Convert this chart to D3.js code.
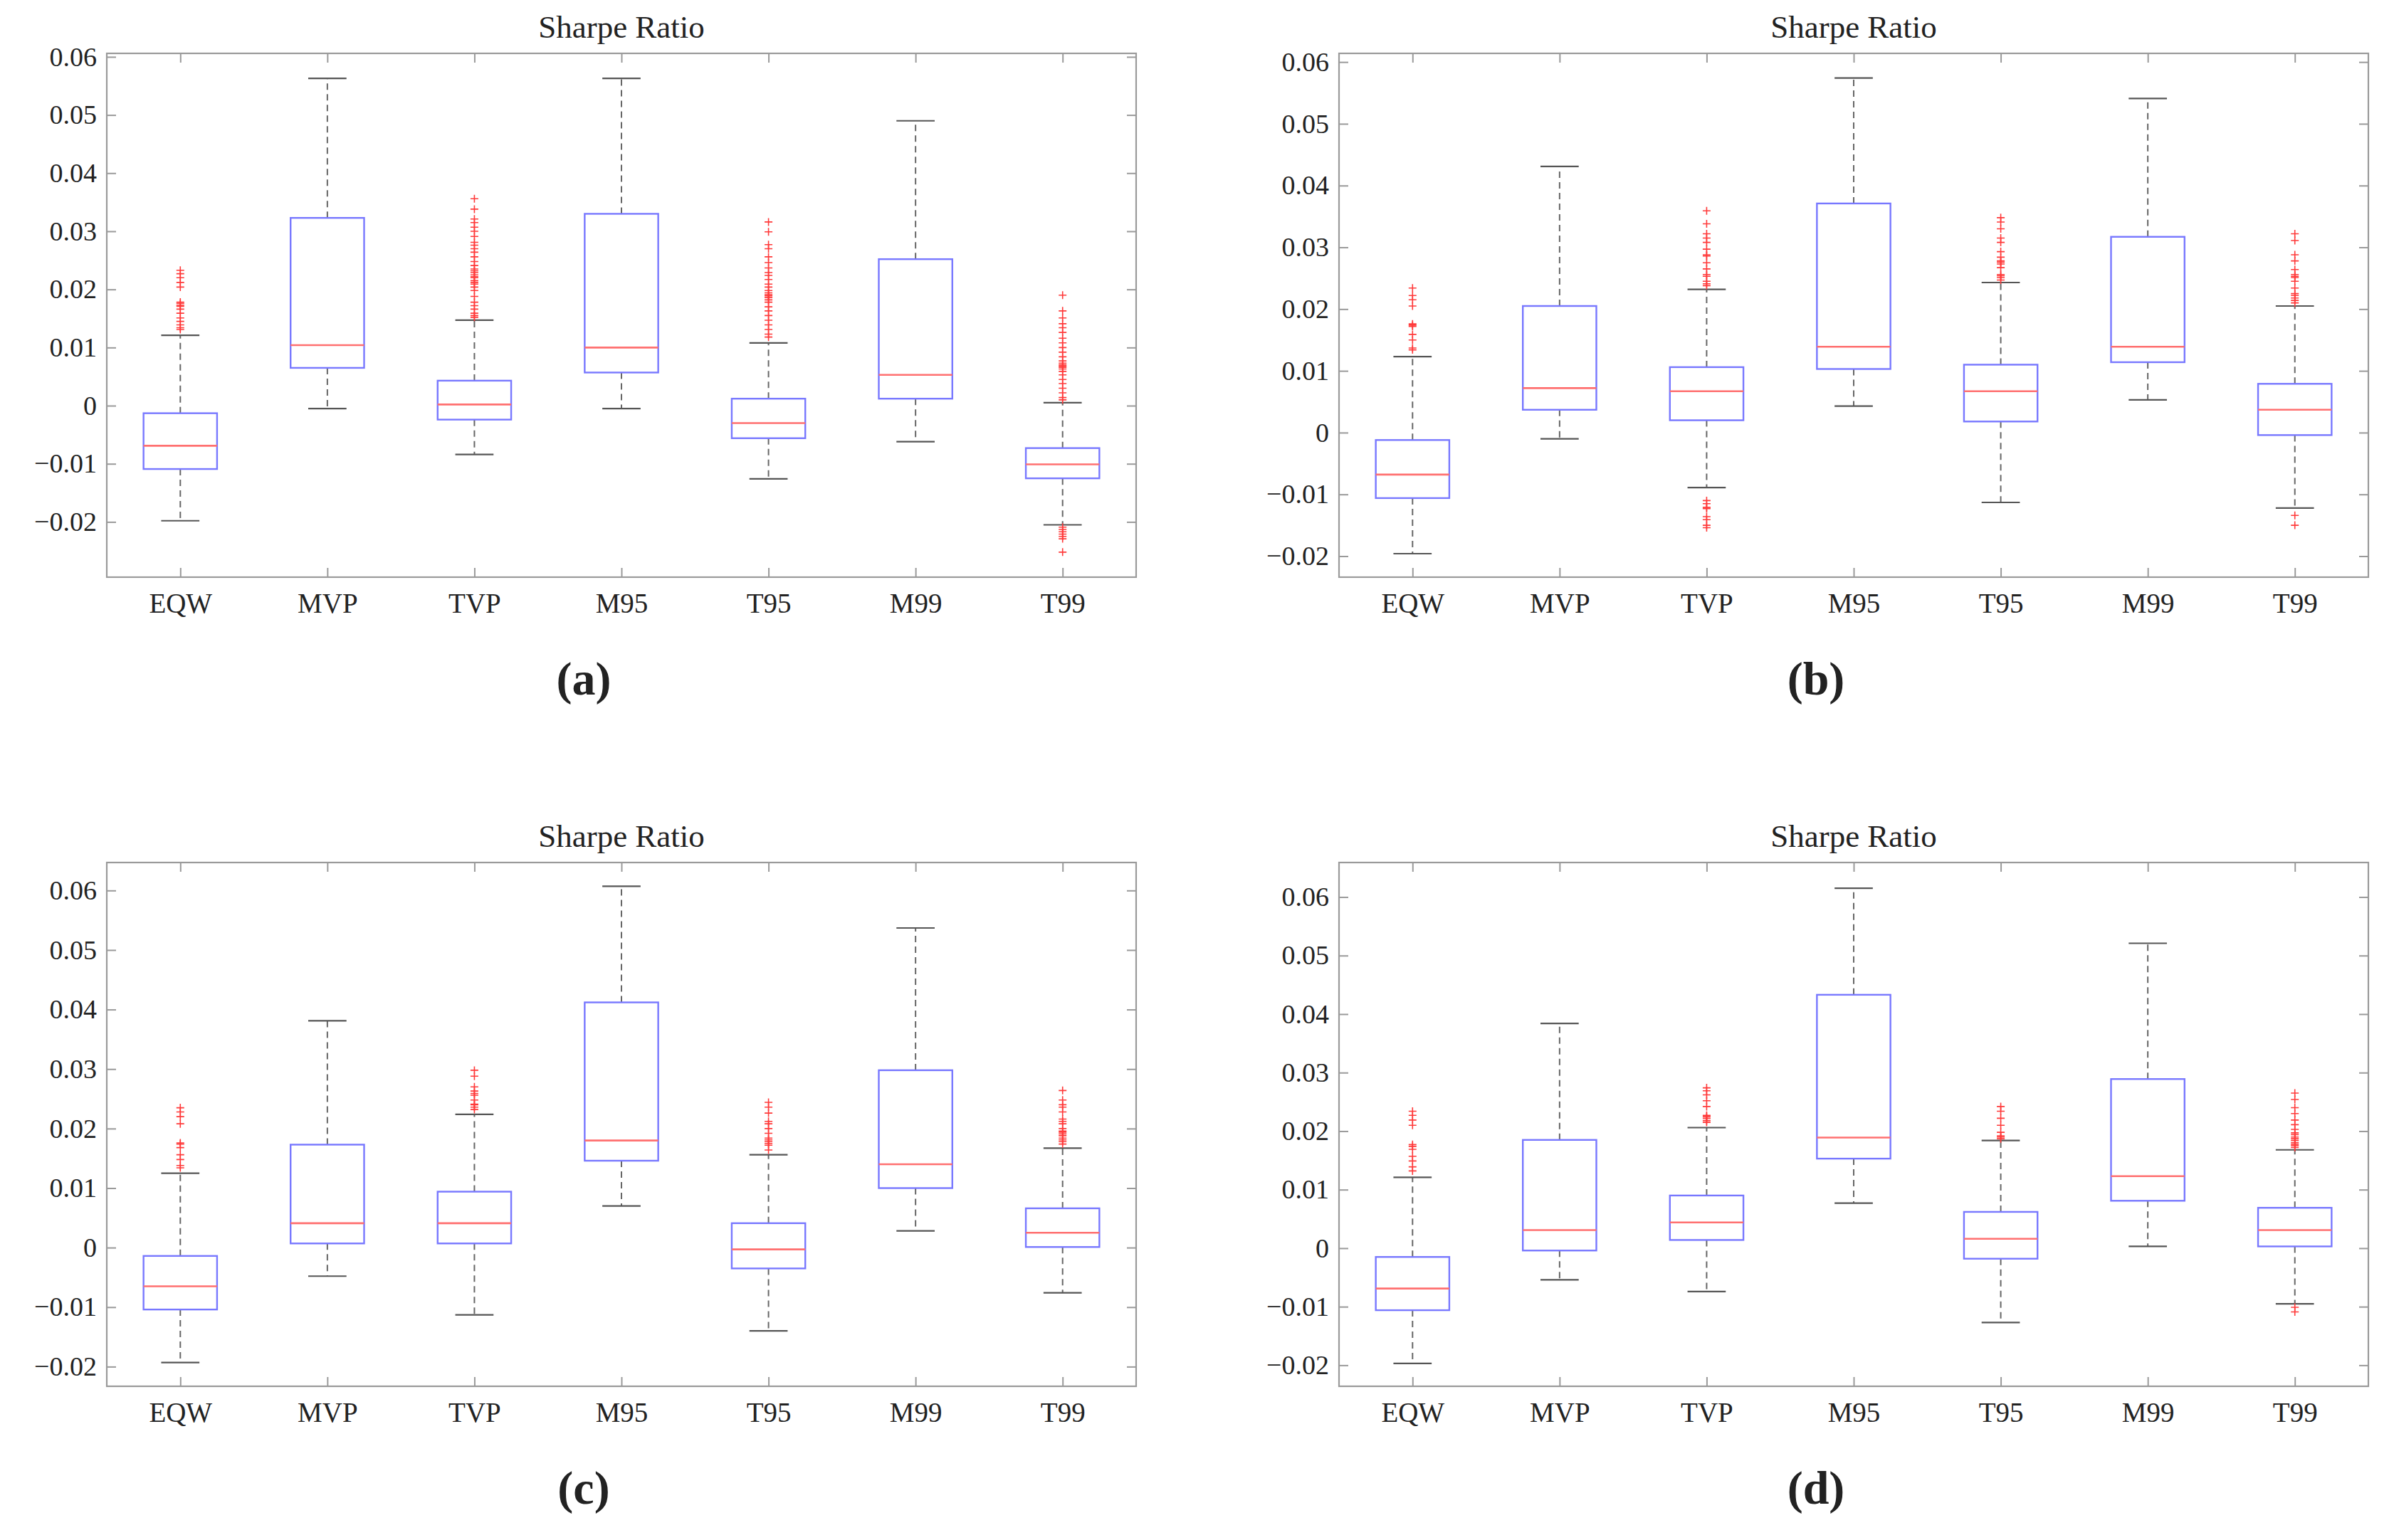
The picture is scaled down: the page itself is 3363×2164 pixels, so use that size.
<!DOCTYPE html>
<html>
<head>
<meta charset="utf-8">
<script src="https://cdn.jsdelivr.net/npm/d3@7"></script>
<style>
  body { margin: 0; background: #fff; }
  text { font-family: "Liberation Serif", "DejaVu Serif", serif; fill: #222; }
</style>
</head>
<body>
<div id="chart"></div>
<script>
// Categories and tick labels
const categories = ["EQW", "MVP", "TVP", "M95", "T95", "M99", "T99"];
const panelLabels = ["(a)", "(b)", "(c)", "(d)"];
const yTicks = [-0.02, -0.01, 0, 0.01, 0.02, 0.03, 0.04, 0.05, 0.06];
const yLimits = [[-0.0295, 0.0606], [-0.0234, 0.0614], [-0.0233, 0.0647], [-0.0236, 0.0659]];

// Panel (a)
const aLow  = [-0.0198, -0.0005, -0.0084, -0.0005, -0.0126, -0.0062, -0.0205];
const aQ1   = [-0.0109, 0.0065, -0.0024, 0.0057, -0.0056, 0.0012, -0.0125];
const aMed  = [-0.0069, 0.0104, 0.0002, 0.0100, -0.0030, 0.0053, -0.0101];
const aQ3   = [-0.0013, 0.0323, 0.0043, 0.0330, 0.0012, 0.0252, -0.0073];
const aHigh = [0.0121, 0.0563, 0.0147, 0.0563, 0.0108, 0.0490, 0.0005];
const aOut = [
    [0.0131, 0.0134, 0.0139, 0.0145, 0.0151, 0.0159, 0.0166, 0.0171, 0.0173, 0.0176, 0.0178, 0.0204, 0.0212, 0.022, 0.0227, 0.0233],
    [],
    [0.0152, 0.0155, 0.0159, 0.0166, 0.0172, 0.0178, 0.0188, 0.0198, 0.0204, 0.0209, 0.0212, 0.0215, 0.022, 0.0222, 0.0225, 0.0229,
     0.0232, 0.0235, 0.0241, 0.0248, 0.0256, 0.0264, 0.027, 0.0276, 0.0281, 0.0291, 0.03, 0.0307, 0.0315, 0.0321, 0.0338, 0.0356],
    [],
    [0.0118, 0.0123, 0.0131, 0.0139, 0.0147, 0.0155, 0.0163, 0.017, 0.0178, 0.0182, 0.0186, 0.0189, 0.0191, 0.0194, 0.0198, 0.0204,
     0.0209, 0.0217, 0.0224, 0.0229, 0.0237, 0.0246, 0.0256, 0.027, 0.0277, 0.0299, 0.0316],
    [],
    [0.001, 0.0014, 0.0022, 0.003, 0.0038, 0.0045, 0.0053, 0.0059, 0.0063, 0.0066, 0.0068, 0.007, 0.0073, 0.0077, 0.0084, 0.0092,
     0.01, 0.0108, 0.0116, 0.0126, 0.0134, 0.0141, 0.0151, 0.0163, 0.019,
     -0.0209, -0.0213, -0.0217, -0.0221, -0.0225, -0.0229, -0.0252]
];

// Panel (b)
const bLow  = [-0.0196, -0.0010, -0.0089, 0.0043, -0.0113, 0.0053, -0.0122];
const bQ1   = [-0.0106, 0.0037, 0.0020, 0.0103, 0.0018, 0.0114, -0.0004];
const bMed  = [-0.0068, 0.0072, 0.0067, 0.0139, 0.0067, 0.0139, 0.0037];
const bQ3   = [-0.0012, 0.0205, 0.0106, 0.0371, 0.0110, 0.0317, 0.0079];
const bHigh = [0.0123, 0.0431, 0.0232, 0.0574, 0.0243, 0.0541, 0.0205];
const bOut = [
    [0.0134, 0.0137, 0.015, 0.0159, 0.0172, 0.0174, 0.0176, 0.0205, 0.0215, 0.0222, 0.0234],
    [],
    [0.0238, 0.0241, 0.0245, 0.0253, 0.0256, 0.0265, 0.0275, 0.0286, 0.0288, 0.0297, 0.0308, 0.0315, 0.0322, 0.0338, 0.0359,
     -0.011, -0.0115, -0.0121, -0.0123, -0.0136, -0.0141, -0.015, -0.0154],
    [],
    [0.0247, 0.0251, 0.0254, 0.0256, 0.0267, 0.0273, 0.0276, 0.0278, 0.0284, 0.0293, 0.0308, 0.0315, 0.033, 0.0341, 0.0348],
    [],
    [0.021, 0.0214, 0.0218, 0.0222, 0.0225, 0.0234, 0.0245, 0.0251, 0.0253, 0.0256, 0.0264, 0.0278, 0.0288, 0.0311, 0.0322,
     -0.0134, -0.015]
];

// Panel (c)
const cLow  = [-0.0193, -0.0048, -0.0113, 0.0070, -0.0140, 0.0028, -0.0076];
const cQ1   = [-0.0104, 0.0007, 0.0007, 0.0146, -0.0035, 0.0100, 0.0001];
const cMed  = [-0.0065, 0.0041, 0.0041, 0.0180, -0.0003, 0.0140, 0.0025];
const cQ3   = [-0.0014, 0.0173, 0.0094, 0.0412, 0.0041, 0.0298, 0.0066];
const cHigh = [0.0125, 0.0381, 0.0224, 0.0607, 0.0156, 0.0537, 0.0167];
const cOut = [
    [0.0134, 0.0138, 0.0148, 0.0156, 0.0168, 0.0174, 0.0176, 0.0208, 0.022, 0.0228, 0.0235],
    [],
    [0.0232, 0.0236, 0.024, 0.0241, 0.0248, 0.0256, 0.0259, 0.0263, 0.027, 0.0288, 0.0298],
    [],
    [0.0164, 0.0172, 0.0175, 0.0178, 0.0181, 0.0184, 0.0192, 0.02, 0.0208, 0.0212, 0.0226, 0.0236, 0.0244],
    [],
    [0.0174, 0.0178, 0.0181, 0.0184, 0.0188, 0.0191, 0.0194, 0.0196, 0.02, 0.0208, 0.0212, 0.0216, 0.0228, 0.0236, 0.024, 0.0248, 0.0264]
];

// Panel (d)
const dLow  = [-0.0197, -0.0054, -0.0074, 0.0077, -0.0127, 0.0003, -0.0095];
const dQ1   = [-0.0106, -0.0004, 0.0014, 0.0153, -0.0018, 0.0081, 0.0003];
const dMed  = [-0.0069, 0.0031, 0.0044, 0.0189, 0.0016, 0.0123, 0.0031];
const dQ3   = [-0.0015, 0.0185, 0.0090, 0.0433, 0.0062, 0.0289, 0.0069];
const dHigh = [0.0121, 0.0384, 0.0206, 0.0615, 0.0184, 0.0521, 0.0168];
const dOut = [
    [0.0132, 0.0139, 0.0149, 0.0157, 0.0169, 0.0174, 0.0177, 0.021, 0.0219, 0.0227, 0.0234],
    [],
    [0.0215, 0.0218, 0.0222, 0.0225, 0.0227, 0.0242, 0.0252, 0.0262, 0.0269, 0.0274],
    [],
    [0.0187, 0.019, 0.0192, 0.0198, 0.021, 0.0222, 0.0234, 0.0242],
    [],
    [0.0172, 0.0175, 0.0177, 0.018, 0.0184, 0.0187, 0.019, 0.0194, 0.0197, 0.0203, 0.0211, 0.0219, 0.023, 0.024, 0.0254, 0.0265,
     -0.0101, -0.0109]
];

// Build rows for each panel from the arrays
function rows(low, q1, med, q3, high, out) {
    return categories.map((c, i) => ({ cat: c, lo: low[i], q1: q1[i], med: med[i], q3: q3[i], hi: high[i], out: out[i] }));
}
const panelData = [
    rows(aLow, aQ1, aMed, aQ3, aHigh, aOut),
    rows(bLow, bQ1, bMed, bQ3, bHigh, bOut),
    rows(cLow, cQ1, cMed, cQ3, cHigh, cOut),
    rows(dLow, dQ1, dMed, dQ3, dHigh, dOut)
];

// Layout
const W = 3363, H = 2164;
const colLeft = [150, 1881], rowTop = [75, 1212];
const plotW = 1446, plotH = 736;
const tickLen = 13;
const axisColor = "#9a9a9a";
const serif = "'Liberation Serif', 'DejaVu Serif', serif";

const svg = d3.select("#chart")
    .append("svg")
    .attr("width", W)
    .attr("height", H)
    .attr("font-family", serif);

const fmt = v => v === 0 ? "0" : (v < 0 ? "\u2212" : "") + Math.abs(v).toFixed(2);

panelData.forEach((data, p) => {
    const left = colLeft[p % 2], top = rowTop[Math.floor(p / 2)];
    const g = svg.append("g").attr("transform", `translate(${left},${top})`);

    const x = d3.scalePoint()
        .domain(categories)
        .range([0, plotW])
        .padding(0.5);
    const step = x.step();
    const y = d3.scaleLinear()
        .domain(yLimits[p])
        .range([plotH, 0]);

    // Axes: ticks point inside the box, on all four sides
    const axisStyle = sel => {
        sel.attr("font-family", serif);
        sel.select(".domain").remove();
        sel.selectAll(".tick line").attr("stroke", axisColor).attr("stroke-width", 2);
        sel.selectAll(".tick text").attr("font-size", 39).attr("fill", "#222");
    };
    g.append("g")
        .attr("transform", `translate(0,${plotH})`)
        .call(d3.axisBottom(x).tickSize(-tickLen).tickPadding(22))
        .call(axisStyle)
        .selectAll(".tick text").attr("dy", "0.71em");
    g.append("g")
        .call(d3.axisTop(x).tickSize(-tickLen).tickFormat(""))
        .call(axisStyle);
    g.append("g")
        .call(d3.axisLeft(y).tickValues(yTicks).tickFormat(fmt).tickSize(-tickLen).tickPadding(14))
        .call(axisStyle)
        .selectAll(".tick text").attr("font-size", 38);
    g.append("g")
        .attr("transform", `translate(${plotW},0)`)
        .call(d3.axisRight(y).tickValues(yTicks).tickFormat("").tickSize(-tickLen))
        .call(axisStyle);

    // Axis box
    g.append("rect")
        .attr("width", plotW)
        .attr("height", plotH)
        .attr("fill", "none")
        .attr("stroke", axisColor)
        .attr("stroke-width", 2.2);

    // Title
    g.append("text")
        .attr("x", plotW / 2)
        .attr("y", -22)
        .attr("text-anchor", "middle")
        .attr("font-size", 45)
        .text("Sharpe Ratio");

    const boxes = g.selectAll(".box")
        .data(data)
        .enter()
        .append("g")
        .attr("class", "box")
        .attr("transform", d => `translate(${x(d.cat)},0)`);

    // Whiskers (dashed)
    boxes.append("line")
        .attr("y1", d => y(d.q3)).attr("y2", d => y(d.hi))
        .attr("stroke", "#666").attr("stroke-width", 2).attr("stroke-dasharray", "9,6");
    boxes.append("line")
        .attr("y1", d => y(d.q1)).attr("y2", d => y(d.lo))
        .attr("stroke", "#666").attr("stroke-width", 2).attr("stroke-dasharray", "9,6");

    // Whisker caps
    [d => d.hi, d => d.lo].forEach(acc => {
        boxes.append("line")
            .attr("x1", -step * 0.13).attr("x2", step * 0.13)
            .attr("y1", d => y(acc(d))).attr("y2", d => y(acc(d)))
            .attr("stroke", "#555").attr("stroke-width", 2.2);
    });

    // Box
    boxes.append("rect")
        .attr("x", -step * 0.25)
        .attr("width", step * 0.5)
        .attr("y", d => y(d.q3))
        .attr("height", d => y(d.q1) - y(d.q3))
        .attr("fill", "none")
        .attr("stroke", "#7878ff")
        .attr("stroke-width", 2.4);

    // Median
    boxes.append("line")
        .attr("x1", -step * 0.25).attr("x2", step * 0.25)
        .attr("y1", d => y(d.med)).attr("y2", d => y(d.med))
        .attr("stroke", "#ff7070").attr("stroke-width", 2.6);

    // Outliers as red plus markers
    boxes.selectAll(".out")
        .data(d => d.out)
        .enter()
        .append("path")
        .attr("d", v => `M-5.5,${y(v)}H5.5M0,${y(v) - 5.5}V${y(v) + 5.5}`)
        .attr("stroke", "#ff3a3a")
        .attr("stroke-width", 1.6)
        .attr("fill", "none");

    // Panel label
    svg.append("text")
        .attr("x", left + plotW / 2 - 53)
        .attr("y", top + plotH + 165)
        .attr("text-anchor", "middle")
        .attr("font-size", 66)
        .attr("font-weight", "bold")
        .attr("fill", "#111")
        .text(panelLabels[p]);
});
</script>
</body>
</html>
